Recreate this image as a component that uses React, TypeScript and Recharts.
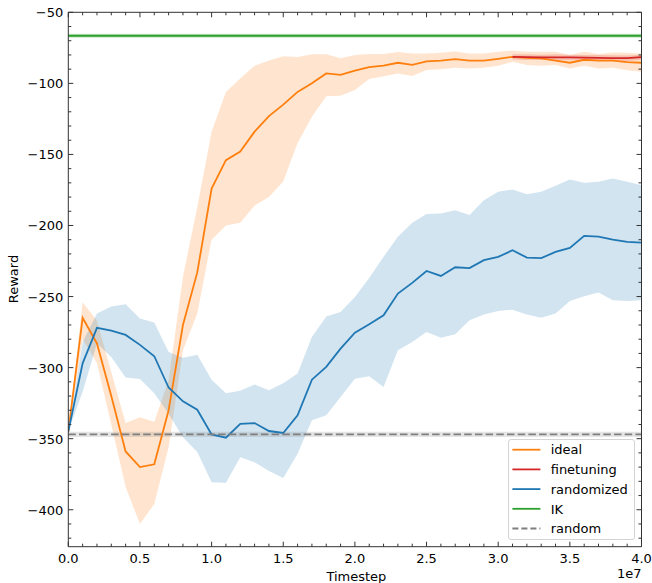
import React from "react";
import { ComposedChart, Line, Area, XAxis, YAxis, ReferenceLine, ReferenceArea, Legend, Label } from "recharts";

// timesteps in units of 1e7
const TIMESTEPS = [
  0.0, 0.1, 0.2, 0.3, 0.4, 0.5, 0.6, 0.7, 0.8, 0.9, 1.0, 1.1, 1.2, 1.3, 1.4, 1.5, 1.6, 1.7, 1.8, 1.9, 2.0,
  2.1, 2.2, 2.3, 2.4, 2.5, 2.6, 2.7, 2.8, 2.9, 3.0, 3.1, 3.2, 3.3, 3.4, 3.5, 3.6, 3.7, 3.8, 3.9, 4.0,
];

const IDEAL_MEAN = [
  -345, -265, -283, -320, -359, -370, -368, -330, -270, -233, -174, -154, -148, -134, -123, -115, -106, -100, -93, -94, -91,
  -88.5, -87.5, -85.5, -87, -84.5, -84, -83, -84, -84, -82.7, -81.3, -82, -82.4, -84, -85.5, -83.4, -84, -84, -85, -85.5,
];
const IDEAL_HI = [
  -345, -254, -267, -303, -339, -335, -338, -309, -236, -187, -134, -106, -96.5, -87.6, -84, -81, -81.5, -79.6, -79.6, -82.4, -80,
  -79.4, -79.4, -78, -78.9, -78.9, -78.4, -77.5, -78.9, -78.9, -77.7, -77, -77.7, -77.7, -77.7, -80, -77.7, -79.4, -78.2, -78.4, -78.9,
];
const IDEAL_LO = [
  -345, -280, -297, -340, -384, -410, -396, -356, -288, -262, -210, -200, -198, -186, -180, -169, -142, -123.5, -109, -108.7, -104.7,
  -97, -95, -93, -94.8, -90.6, -90, -89, -89.5, -89, -87.6, -84.8, -87.1, -87.6, -87.1, -89.5, -87.6, -89.5, -89, -90.7, -91.9,
];

const RAND_MEAN = [
  -345, -297, -272, -274, -277, -284, -292, -314, -323.7, -329.6, -347, -349.3, -339.5, -339, -344.6, -346, -333.6, -308.5, -299.5, -286.6, -275.4,
  -269.5, -263.2, -247.9, -240.4, -232, -235.5, -229.4, -230, -224.4, -222.1, -217.4, -222.6, -223, -218.6, -215.8, -207.3, -207.8, -209.9, -211.5, -212,
];
const RAND_HI = [
  -345, -282, -262, -257, -255.4, -265.5, -268.3, -289, -293, -291, -308.5, -318, -316.3, -311.8, -316, -311, -304.2, -278.4, -264, -260.8, -250.3,
  -237, -222, -208, -198, -192, -191.6, -189.2, -192.7, -182.2, -176.3, -174.6, -178, -176.3, -172.1, -167.6, -170, -169.3, -166.9, -169.3, -171.6,
];
const RAND_LO = [
  -345, -317, -283, -292.5, -307, -308, -318, -332.4, -349, -359.4, -380.6, -381, -363, -366.5, -372.8, -377.7, -360.6, -337, -333.5, -320.7, -307.8,
  -306, -313.7, -287.8, -282, -275, -278.9, -276.5, -266.7, -262.7, -260.1, -259.2, -262.7, -265, -262, -253.1, -249.8, -247.2, -252.6, -253.1, -252.6,
];

const FT_STEPS = [3.1, 3.2, 3.3, 3.4, 3.5, 3.6, 3.7, 3.8, 3.9, 4.0];
const FT_MEAN = [-81.3, -81.6, -81.7, -81.7, -81.7, -81.9, -82.0, -82.2, -82.3, -81.5];
const FT_HI = [-79.5, -79.5, -79.8, -79.6, -79.8, -80, -80, -80.2, -80.4, -79.8];
const FT_LO = [-83.2, -83.6, -83.6, -83.8, -83.8, -84, -84, -84.2, -84.4, -83.4];

const IK_VALUE = -66.5;
const IK_BAND = [-67.9, -65.1];
const RANDOM_VALUE = -347;
const RANDOM_BAND = [-348.8, -345.2];

const X_MAJOR = [0, 0.5, 1, 1.5, 2, 2.5, 3, 3.5, 4];
const Y_MAJOR = [-400, -350, -300, -250, -200, -150, -100, -50];
const Y_TICKS = [
  -420, -410, -400, -390, -380, -370, -360, -350, -340, -330, -320, -310, -300, -290, -280, -270, -260, -250, -240, -230,
  -220, -210, -200, -190, -180, -170, -160, -150, -140, -130, -120, -110, -100, -90, -80, -70, -60, -50,
];

const COLORS = {
  ideal: "#ff7f0e",
  finetuning: "#d62728",
  randomized: "#1f77b4",
  ik: "#2ca02c",
  random: "#7f7f7f",
};

const FONT = "DejaVu Sans";
const TICK_COLOR = "#333";

const data = TIMESTEPS.map((x, i) => {
  const j = FT_STEPS.indexOf(x);
  return {
    x,
    idealMean: IDEAL_MEAN[i],
    idealLo: IDEAL_LO[i],
    idealHi: IDEAL_HI[i],
    randMean: RAND_MEAN[i],
    randLo: RAND_LO[i],
    randHi: RAND_HI[i],
    ftMean: j >= 0 ? FT_MEAN[j] : null,
    ftLo: j >= 0 ? FT_LO[j] : null,
    ftHi: j >= 0 ? FT_HI[j] : null,
  };
});

const isIn = (v: number, list: number[]) => list.some((m) => Math.abs(m - v) < 1e-9);
const fmtNum = (v: number) => String(v).replace("-", "\u2212");

const BottomTick = (props: any) => {
  const { x, y, payload } = props;
  const major = isIn(payload.value, X_MAJOR);
  return (
    <g>
      <line x1={x} x2={x} y1={y} y2={y - (major ? 5 : 3)} stroke={TICK_COLOR} strokeWidth={1} />
      {major && (
        <text x={x} y={y + 16.6} textAnchor="middle" fontFamily={FONT} fontSize={13} fill="#000">
          {payload.value.toFixed(1)}
        </text>
      )}
    </g>
  );
};

const TopTick = (props: any) => {
  const { x, y, payload } = props;
  const major = isIn(payload.value, X_MAJOR);
  return <line x1={x} x2={x} y1={y} y2={y + (major ? 5 : 3)} stroke={TICK_COLOR} strokeWidth={1} />;
};

const LeftTick = (props: any) => {
  const { x, y, payload } = props;
  const major = isIn(payload.value, Y_MAJOR);
  return (
    <g>
      <line x1={x} x2={x + (major ? 5 : 3)} y1={y} y2={y} stroke={TICK_COLOR} strokeWidth={1} />
      {major && (
        <text x={x - 5} y={y + 5} textAnchor="end" fontFamily={FONT} fontSize={13} fill="#000">
          {fmtNum(payload.value)}
        </text>
      )}
    </g>
  );
};

const RightTick = (props: any) => {
  const { x, y, payload } = props;
  const major = isIn(payload.value, Y_MAJOR);
  return <line x1={x} x2={x - (major ? 5 : 3)} y1={y} y2={y} stroke={TICK_COLOR} strokeWidth={1} />;
};

const LEGEND_ITEMS = [
  { name: "ideal", color: COLORS.ideal, dash: undefined },
  { name: "finetuning", color: COLORS.finetuning, dash: undefined },
  { name: "randomized", color: COLORS.randomized, dash: undefined },
  { name: "IK", color: COLORS.ik, dash: undefined },
  { name: "random", color: COLORS.random, dash: "6 3" },
];

const LegendBox = () => (
  <div
    style={{
      width: 127,
      height: 101,
      boxSizing: "border-box",
      border: "1px solid #d4d4d4",
      borderRadius: 3,
      background: "rgba(255,255,255,0.8)",
    }}
  >
    <svg width={125} height={99} style={{ display: "block" }}>
      {LEGEND_ITEMS.map((item, i) => {
        const cy = 9.7 + i * 19.7;
        return (
          <g key={item.name}>
            <line x1={3.4} x2={31.4} y1={cy} y2={cy} stroke={item.color} strokeWidth={1.8} strokeDasharray={item.dash} />
            <text x={41.7} y={cy + 4.7} fontFamily={FONT} fontSize={13} fill="#000">
              {item.name}
            </text>
          </g>
        );
      })}
    </svg>
  </div>
);

export default function App() {
  return (
    <div style={{ position: "absolute", left: 0, top: 0, width: 652, height: 583, background: "#fff" }}>
      <ComposedChart
        width={652}
        height={583}
        data={data}
        margin={{ top: 12.28, right: 10.48, bottom: 0, left: 0.3 }}
      >
        <XAxis
          dataKey="x"
          type="number"
          domain={[0, 4]}
          allowDataOverflow
          ticks={TIMESTEPS}
          interval={0}
          tickSize={0}
          tickMargin={0}
          tickLine={false}
          tick={<BottomTick />}
          axisLine={{ stroke: TICK_COLOR, strokeWidth: 1 }}
          height={36.3}
        >
          <Label
            content={(p: any) => (
              <g>
                <text
                  x={p.viewBox.x + p.viewBox.width / 2 + 1.5}
                  y={581}
                  textAnchor="middle"
                  fontFamily={FONT}
                  fontSize={13}
                  fill="#000"
                >
                  Timestep
                </text>
                <text
                  x={p.viewBox.x + p.viewBox.width}
                  y={578.3}
                  textAnchor="end"
                  fontFamily={FONT}
                  fontSize={13}
                  fill="#000"
                >
                  1e7
                </text>
              </g>
            )}
          />
        </XAxis>
        <XAxis
          xAxisId="top"
          orientation="top"
          dataKey="x"
          type="number"
          domain={[0, 4]}
          allowDataOverflow
          ticks={TIMESTEPS}
          interval={0}
          tickSize={0}
          tickMargin={0}
          tickLine={false}
          tick={<TopTick />}
          axisLine={{ stroke: TICK_COLOR, strokeWidth: 1 }}
          height={0.02}
        />
        <YAxis
          type="number"
          domain={[-426, -50]}
          allowDataOverflow
          ticks={Y_TICKS}
          interval={0}
          tickSize={0}
          tickMargin={0}
          tickLine={false}
          tick={<LeftTick />}
          axisLine={{ stroke: TICK_COLOR, strokeWidth: 1 }}
          width={68}
        >
          <Label
            content={(p: any) => {
              const cy = p.viewBox.y + p.viewBox.height / 2 - 0.5;
              return (
                <text
                  x={18.3}
                  y={cy}
                  transform={`rotate(-90, 18.3, ${cy})`}
                  textAnchor="middle"
                  fontFamily={FONT}
                  fontSize={13}
                  fill="#000"
                >
                  Reward
                </text>
              );
            }}
          />
        </YAxis>
        <YAxis
          yAxisId="right"
          orientation="right"
          type="number"
          domain={[-426, -50]}
          allowDataOverflow
          ticks={Y_TICKS}
          interval={0}
          tickSize={0}
          tickMargin={0}
          tickLine={false}
          tick={<RightTick />}
          axisLine={{ stroke: TICK_COLOR, strokeWidth: 1 }}
          width={0.02}
        />

        <Area
          dataKey={(d: any) => [d.idealLo, d.idealHi]}
          type="linear"
          stroke="none"
          fill={COLORS.ideal}
          fillOpacity={0.2}
          isAnimationActive={false}
          activeDot={false}
          legendType="none"
        />
        <Line
          dataKey="idealMean"
          type="linear"
          stroke={COLORS.ideal}
          strokeWidth={1.8}
          dot={false}
          activeDot={false}
          isAnimationActive={false}
        />
        <Area
          dataKey={(d: any) => (d.ftMean == null ? null : [d.ftLo, d.ftHi])}
          type="linear"
          stroke="none"
          fill={COLORS.finetuning}
          fillOpacity={0.2}
          isAnimationActive={false}
          activeDot={false}
          legendType="none"
        />
        <Line
          dataKey="ftMean"
          type="linear"
          stroke={COLORS.finetuning}
          strokeWidth={1.8}
          dot={false}
          activeDot={false}
          isAnimationActive={false}
        />
        <Area
          dataKey={(d: any) => [d.randLo, d.randHi]}
          type="linear"
          stroke="none"
          fill={COLORS.randomized}
          fillOpacity={0.2}
          isAnimationActive={false}
          activeDot={false}
          legendType="none"
        />
        <Line
          dataKey="randMean"
          type="linear"
          stroke={COLORS.randomized}
          strokeWidth={1.8}
          dot={false}
          activeDot={false}
          isAnimationActive={false}
        />
        {/* invisible series so the top and right frame axes get a domain */}
        <Line
          xAxisId="top"
          yAxisId="right"
          dataKey="randMean"
          stroke="none"
          dot={false}
          activeDot={false}
          legendType="none"
          isAnimationActive={false}
        />

        <ReferenceArea y1={IK_BAND[0]} y2={IK_BAND[1]} fill={COLORS.ik} fillOpacity={0.25} stroke="none" />
        <ReferenceLine y={IK_VALUE} stroke={COLORS.ik} strokeWidth={1.8} />
        <ReferenceArea y1={RANDOM_BAND[0]} y2={RANDOM_BAND[1]} fill={COLORS.random} fillOpacity={0.2} stroke="none" />
        <ReferenceLine y={RANDOM_VALUE} stroke={COLORS.random} strokeWidth={1.8} strokeDasharray="7.5 3.2" />

        <Legend
          layout="vertical"
          align="center"
          verticalAlign="middle"
          wrapperStyle={{ left: 508.3, top: 439.3, width: 127, height: 101 }}
          content={() => <LegendBox />}
        />
      </ComposedChart>
    </div>
  );
}
